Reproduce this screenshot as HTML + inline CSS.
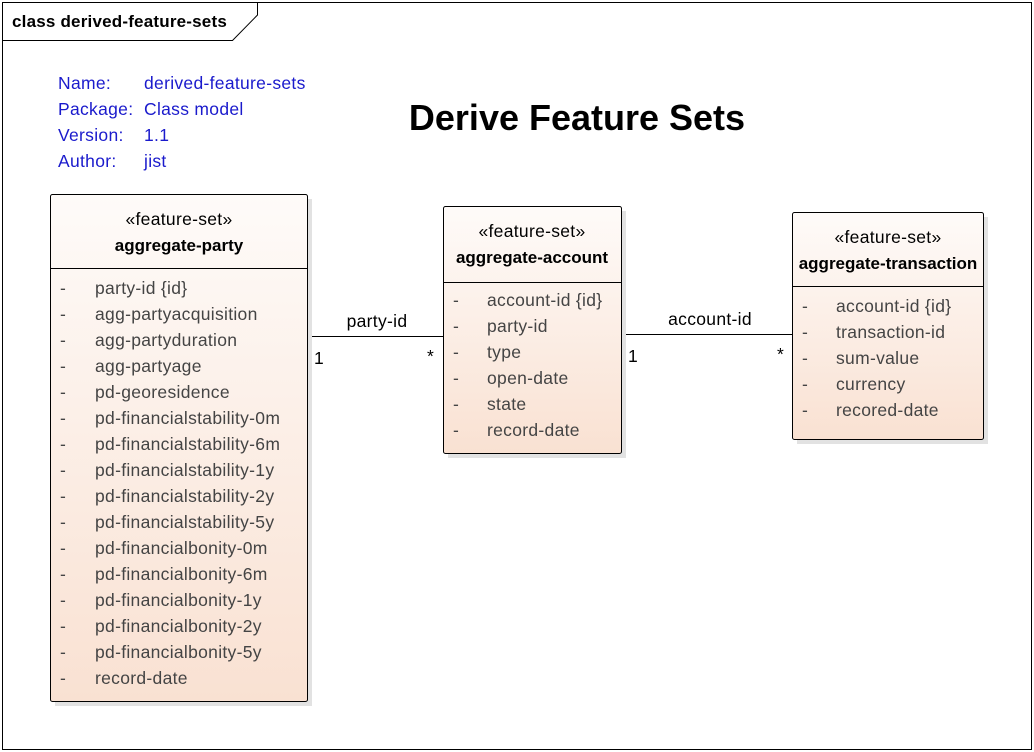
<!DOCTYPE html>
<html><head><meta charset="utf-8"><style>
html,body{margin:0;padding:0;background:#fff;}
svg{display:block;}
text{font-family:"Liberation Sans",sans-serif;}
.r{font-size:17.5px;letter-spacing:0.3px;}
</style></head><body>
<svg width="1034" height="752" viewBox="0 0 1034 752" xmlns="http://www.w3.org/2000/svg">
<defs>
<linearGradient id="g" x1="0" y1="0" x2="0" y2="1">
<stop offset="0" stop-color="#fefbf9"/><stop offset="1" stop-color="#f9e1d2"/>
</linearGradient>
</defs>
<rect x="2.5" y="2.5" width="1029" height="747" fill="#fff" stroke="#000" stroke-width="1"/>
<path d="M2.5 40.5 H232.5 L257.5 15 V2.5" fill="none" stroke="#000"/>
<text x="12" y="27" font-size="17" font-weight="bold" fill="#000" style="letter-spacing:0.2px">class derived-feature-sets</text>

<g font-size="17.5" fill="#1a1acc" style="letter-spacing:0.3px">
<text x="58" y="89">Name:</text><text x="144" y="89">derived-feature-sets</text>
<text x="58" y="115">Package:</text><text x="144" y="115">Class model</text>
<text x="58" y="141">Version:</text><text x="144" y="141">1.1</text>
<text x="58" y="167">Author:</text><text x="144" y="167">jist</text>
</g>
<text x="577" y="130" font-size="36" font-weight="bold" text-anchor="middle" fill="#000">Derive Feature Sets</text>

<line x1="307" y1="336.5" x2="443" y2="336.5" stroke="#000"/>
<line x1="621" y1="334.5" x2="792" y2="334.5" stroke="#000"/>
<g class="r" fill="#000">
<text x="377" y="327" text-anchor="middle">party-id</text>
<text x="314" y="364">1</text><text x="427" y="362">*</text>
<text x="710" y="325" text-anchor="middle">account-id</text>
<text x="628" y="362">1</text><text x="777" y="360">*</text>
</g>

<rect x="55" y="199" width="257" height="507" fill="#e2e2e2"/>
<rect x="448" y="211" width="178" height="247" fill="#e2e2e2"/>
<rect x="797" y="217" width="191" height="227" fill="#e2e2e2"/>

<rect x="50.5" y="194.5" width="257" height="507" rx="2" fill="url(#g)" stroke="#000"/>
<line x1="50.5" y1="268.5" x2="307.5" y2="268.5" stroke="#000"/>
<text x="179" y="225" class="r" text-anchor="middle">«feature-set»</text>
<text x="179" y="251" font-size="17" font-weight="bold" text-anchor="middle">aggregate-party</text>
<g class="r" fill="#444">
<text x="60" y="294">-</text><text x="95" y="294">party-id {id}</text>
<text x="60" y="320">-</text><text x="95" y="320">agg-partyacquisition</text>
<text x="60" y="346">-</text><text x="95" y="346">agg-partyduration</text>
<text x="60" y="372">-</text><text x="95" y="372">agg-partyage</text>
<text x="60" y="398">-</text><text x="95" y="398">pd-georesidence</text>
<text x="60" y="424">-</text><text x="95" y="424">pd-financialstability-0m</text>
<text x="60" y="450">-</text><text x="95" y="450">pd-financialstability-6m</text>
<text x="60" y="476">-</text><text x="95" y="476">pd-financialstability-1y</text>
<text x="60" y="502">-</text><text x="95" y="502">pd-financialstability-2y</text>
<text x="60" y="528">-</text><text x="95" y="528">pd-financialstability-5y</text>
<text x="60" y="554">-</text><text x="95" y="554">pd-financialbonity-0m</text>
<text x="60" y="580">-</text><text x="95" y="580">pd-financialbonity-6m</text>
<text x="60" y="606">-</text><text x="95" y="606">pd-financialbonity-1y</text>
<text x="60" y="632">-</text><text x="95" y="632">pd-financialbonity-2y</text>
<text x="60" y="658">-</text><text x="95" y="658">pd-financialbonity-5y</text>
<text x="60" y="684">-</text><text x="95" y="684">record-date</text>
</g>

<rect x="443.5" y="206.5" width="178" height="247" rx="2" fill="url(#g)" stroke="#000"/>
<line x1="443.5" y1="282.5" x2="621.5" y2="282.5" stroke="#000"/>
<text x="532" y="237" class="r" text-anchor="middle">«feature-set»</text>
<text x="532" y="263" font-size="17" font-weight="bold" text-anchor="middle">aggregate-account</text>
<g class="r" fill="#444">
<text x="453" y="306">-</text><text x="487" y="306">account-id {id}</text>
<text x="453" y="332">-</text><text x="487" y="332">party-id</text>
<text x="453" y="358">-</text><text x="487" y="358">type</text>
<text x="453" y="384">-</text><text x="487" y="384">open-date</text>
<text x="453" y="410">-</text><text x="487" y="410">state</text>
<text x="453" y="436">-</text><text x="487" y="436">record-date</text>
</g>

<rect x="792.5" y="212.5" width="191" height="227" rx="2" fill="url(#g)" stroke="#000"/>
<line x1="792.5" y1="286.5" x2="983.5" y2="286.5" stroke="#000"/>
<text x="888" y="243" class="r" text-anchor="middle">«feature-set»</text>
<text x="888" y="269" font-size="17" font-weight="bold" text-anchor="middle">aggregate-transaction</text>
<g class="r" fill="#444">
<text x="802" y="312">-</text><text x="836" y="312">account-id {id}</text>
<text x="802" y="338">-</text><text x="836" y="338">transaction-id</text>
<text x="802" y="364">-</text><text x="836" y="364">sum-value</text>
<text x="802" y="390">-</text><text x="836" y="390">currency</text>
<text x="802" y="416">-</text><text x="836" y="416">recored-date</text>
</g>
</svg>
</body></html>
